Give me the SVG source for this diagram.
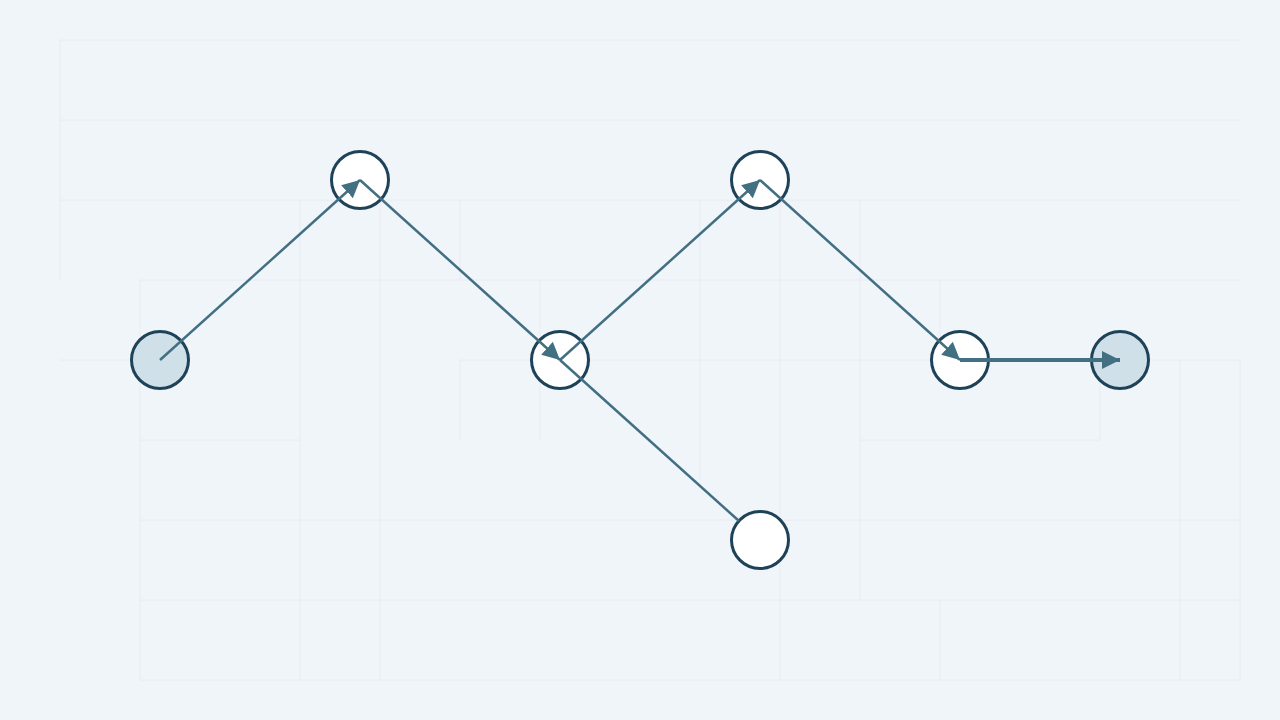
<svg xmlns="http://www.w3.org/2000/svg" width="1280" height="720" viewBox="0 0 1280 720">
<style>
.bg{fill:#f0f5fa}
.grid line{stroke:#e7ecf1;stroke-width:1}
.node{stroke:#1e4258;stroke-width:3}
.plain{fill:#ffffff}
.term{fill:#cfe0e8}
.edge{stroke:#426f82;stroke-width:2.5;fill:none}
.edge.main{stroke-width:4}
</style>
<defs>
<marker id="arr" viewBox="0 0 10 10" refX="10" refY="5" markerWidth="7" markerHeight="7" markerUnits="strokeWidth" orient="auto">
<path d="M0,0 L10,5 L0,10 Z" fill="#426f82"/>
</marker>
<marker id="arr2" viewBox="0 0 10 10" refX="10" refY="5" markerWidth="4.6" markerHeight="4.6" markerUnits="strokeWidth" orient="auto">
<path d="M0,0 L10,5 L0,10 Z" fill="#426f82"/>
</marker>
</defs>
<rect class="bg" x="0" y="0" width="1280" height="720"/>
<g class="grid">
<line x1="60" y1="40" x2="1240" y2="40"/>
<line x1="60" y1="120" x2="1240" y2="120"/>
<line x1="60" y1="200" x2="1240" y2="200"/>
<line x1="140" y1="280" x2="1240" y2="280"/>
<line x1="60" y1="360" x2="140" y2="360"/>
<line x1="460" y1="360" x2="1240" y2="360"/>
<line x1="140" y1="440" x2="300" y2="440"/>
<line x1="860" y1="440" x2="1100" y2="440"/>
<line x1="140" y1="520" x2="1240" y2="520"/>
<line x1="140" y1="600" x2="1240" y2="600"/>
<line x1="140" y1="680" x2="1240" y2="680"/>
<line x1="60" y1="40" x2="60" y2="280"/>
<line x1="140" y1="280" x2="140" y2="680"/>
<line x1="300" y1="200" x2="300" y2="680"/>
<line x1="380" y1="200" x2="380" y2="680"/>
<line x1="460" y1="200" x2="460" y2="280"/>
<line x1="460" y1="360" x2="460" y2="440"/>
<line x1="540" y1="280" x2="540" y2="440"/>
<line x1="700" y1="200" x2="700" y2="480"/>
<line x1="780" y1="200" x2="780" y2="680"/>
<line x1="860" y1="200" x2="860" y2="600"/>
<line x1="940" y1="280" x2="940" y2="360"/>
<line x1="940" y1="600" x2="940" y2="680"/>
<line x1="1100" y1="360" x2="1100" y2="440"/>
<line x1="1180" y1="360" x2="1180" y2="680"/>
<line x1="1240" y1="360" x2="1240" y2="680"/>
</g>
<g id="n1"><circle class="node term" cx="160" cy="360" r="28.5"/></g>
<g id="n2"><circle class="node plain" cx="360" cy="180" r="28.5"/></g>
<g id="n3"><circle class="node plain" cx="560" cy="360" r="28.5"/></g>
<g id="n4"><circle class="node plain" cx="760" cy="180" r="28.5"/></g>
<g id="n5"><circle class="node plain" cx="760" cy="540" r="28.5"/></g>
<g id="n6"><circle class="node plain" cx="960" cy="360" r="28.5"/></g>
<g id="n7"><circle class="node term" cx="1120" cy="360" r="28.5"/></g>
<g id="connectors">
<line class="edge" x1="160" y1="360" x2="360" y2="180" marker-end="url(#arr)"/>
<line class="edge" x1="360" y1="180" x2="560" y2="360" marker-end="url(#arr)"/>
<line class="edge" x1="560" y1="360" x2="760" y2="180" marker-end="url(#arr)"/>
<line class="edge" x1="760" y1="180" x2="960" y2="360" marker-end="url(#arr)"/>
<line class="edge" x1="560" y1="360" x2="739" y2="521"/>
<line class="edge main" x1="960" y1="360" x2="1120" y2="360" marker-end="url(#arr2)"/>
</g>
</svg>
